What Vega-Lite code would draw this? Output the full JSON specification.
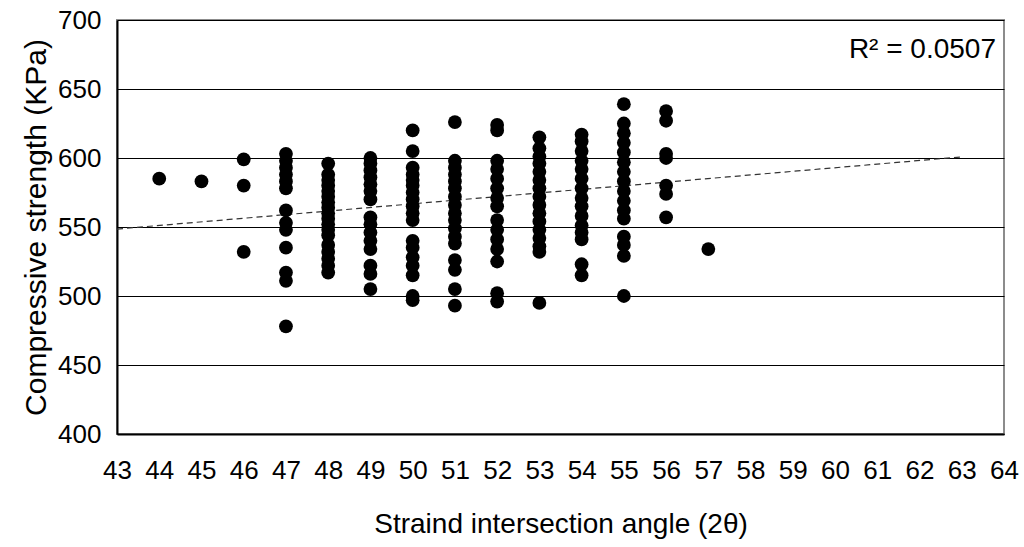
{
  "$schema": "https://vega.github.io/schema/vega-lite/v6.json",
  "autosize": {"type": "none"},
  "width": 887,
  "height": 414,
  "padding": {"left": 117, "top": 20, "right": 20, "bottom": 113},
  "background": "white",
  "config": {
    "font": "Liberation Sans",
    "view": {"stroke": "#8c8c8c", "strokeWidth": 2},
    "axis": {"labelFont": "Liberation Sans", "titleFont": "Liberation Sans", "labelColor": "#000", "titleColor": "#000", "titleFontWeight": "normal"}
  },
  "datasets": {
    "pts": [
      {"angle": 44, "strength": 585},
      {"angle": 45, "strength": 583},
      {"angle": 46, "strength": 599}, {"angle": 46, "strength": 580}, {"angle": 46, "strength": 532},
      {"angle": 47, "strength": 603}, {"angle": 47, "strength": 598}, {"angle": 47, "strength": 593}, {"angle": 47, "strength": 588}, {"angle": 47, "strength": 583}, {"angle": 47, "strength": 578}, {"angle": 47, "strength": 562}, {"angle": 47, "strength": 553}, {"angle": 47, "strength": 548}, {"angle": 47, "strength": 535}, {"angle": 47, "strength": 517}, {"angle": 47, "strength": 511}, {"angle": 47, "strength": 478},
      {"angle": 48, "strength": 596}, {"angle": 48, "strength": 588}, {"angle": 48, "strength": 584}, {"angle": 48, "strength": 580}, {"angle": 48, "strength": 576}, {"angle": 48, "strength": 572}, {"angle": 48, "strength": 568}, {"angle": 48, "strength": 564}, {"angle": 48, "strength": 560}, {"angle": 48, "strength": 556}, {"angle": 48, "strength": 552}, {"angle": 48, "strength": 548}, {"angle": 48, "strength": 544}, {"angle": 48, "strength": 537}, {"angle": 48, "strength": 532}, {"angle": 48, "strength": 527}, {"angle": 48, "strength": 522}, {"angle": 48, "strength": 517},
      {"angle": 49, "strength": 600}, {"angle": 49, "strength": 596}, {"angle": 49, "strength": 591}, {"angle": 49, "strength": 586}, {"angle": 49, "strength": 581}, {"angle": 49, "strength": 576}, {"angle": 49, "strength": 570}, {"angle": 49, "strength": 557}, {"angle": 49, "strength": 552}, {"angle": 49, "strength": 546}, {"angle": 49, "strength": 540}, {"angle": 49, "strength": 534}, {"angle": 49, "strength": 522}, {"angle": 49, "strength": 516}, {"angle": 49, "strength": 505},
      {"angle": 50, "strength": 620}, {"angle": 50, "strength": 605}, {"angle": 50, "strength": 593}, {"angle": 50, "strength": 588}, {"angle": 50, "strength": 584}, {"angle": 50, "strength": 580}, {"angle": 50, "strength": 575}, {"angle": 50, "strength": 570}, {"angle": 50, "strength": 565}, {"angle": 50, "strength": 560}, {"angle": 50, "strength": 555}, {"angle": 50, "strength": 540}, {"angle": 50, "strength": 535}, {"angle": 50, "strength": 528}, {"angle": 50, "strength": 522}, {"angle": 50, "strength": 515}, {"angle": 50, "strength": 500}, {"angle": 50, "strength": 497},
      {"angle": 51, "strength": 626}, {"angle": 51, "strength": 598}, {"angle": 51, "strength": 593}, {"angle": 51, "strength": 588}, {"angle": 51, "strength": 583}, {"angle": 51, "strength": 578}, {"angle": 51, "strength": 572}, {"angle": 51, "strength": 566}, {"angle": 51, "strength": 560}, {"angle": 51, "strength": 555}, {"angle": 51, "strength": 549}, {"angle": 51, "strength": 543}, {"angle": 51, "strength": 538}, {"angle": 51, "strength": 526}, {"angle": 51, "strength": 519}, {"angle": 51, "strength": 505}, {"angle": 51, "strength": 493},
      {"angle": 52, "strength": 624}, {"angle": 52, "strength": 620}, {"angle": 52, "strength": 598}, {"angle": 52, "strength": 592}, {"angle": 52, "strength": 585}, {"angle": 52, "strength": 578}, {"angle": 52, "strength": 571}, {"angle": 52, "strength": 565}, {"angle": 52, "strength": 555}, {"angle": 52, "strength": 548}, {"angle": 52, "strength": 541}, {"angle": 52, "strength": 534}, {"angle": 52, "strength": 525}, {"angle": 52, "strength": 502}, {"angle": 52, "strength": 496},
      {"angle": 53, "strength": 615}, {"angle": 53, "strength": 607}, {"angle": 53, "strength": 601}, {"angle": 53, "strength": 596}, {"angle": 53, "strength": 590}, {"angle": 53, "strength": 584}, {"angle": 53, "strength": 578}, {"angle": 53, "strength": 572}, {"angle": 53, "strength": 566}, {"angle": 53, "strength": 560}, {"angle": 53, "strength": 554}, {"angle": 53, "strength": 548}, {"angle": 53, "strength": 542}, {"angle": 53, "strength": 536}, {"angle": 53, "strength": 532}, {"angle": 53, "strength": 495},
      {"angle": 54, "strength": 617}, {"angle": 54, "strength": 612}, {"angle": 54, "strength": 605}, {"angle": 54, "strength": 598}, {"angle": 54, "strength": 592}, {"angle": 54, "strength": 585}, {"angle": 54, "strength": 578}, {"angle": 54, "strength": 571}, {"angle": 54, "strength": 565}, {"angle": 54, "strength": 558}, {"angle": 54, "strength": 551}, {"angle": 54, "strength": 546}, {"angle": 54, "strength": 541}, {"angle": 54, "strength": 523}, {"angle": 54, "strength": 515},
      {"angle": 55, "strength": 639}, {"angle": 55, "strength": 625}, {"angle": 55, "strength": 618}, {"angle": 55, "strength": 611}, {"angle": 55, "strength": 604}, {"angle": 55, "strength": 597}, {"angle": 55, "strength": 590}, {"angle": 55, "strength": 583}, {"angle": 55, "strength": 576}, {"angle": 55, "strength": 569}, {"angle": 55, "strength": 562}, {"angle": 55, "strength": 556}, {"angle": 55, "strength": 543}, {"angle": 55, "strength": 537}, {"angle": 55, "strength": 529}, {"angle": 55, "strength": 500},
      {"angle": 56, "strength": 634}, {"angle": 56, "strength": 627}, {"angle": 56, "strength": 603}, {"angle": 56, "strength": 600}, {"angle": 56, "strength": 580}, {"angle": 56, "strength": 574}, {"angle": 56, "strength": 557},
      {"angle": 57, "strength": 534}
    ],
    "trend": [
      {"angle": 43, "strength": 548.5},
      {"angle": 63, "strength": 600.8}
    ]
  },
  "layer": [
    {
      "data": {"name": "trend"},
      "mark": {"type": "line", "color": "#333", "strokeWidth": 1.2, "strokeDash": [6, 4]},
      "encoding": {
        "x": {
          "field": "angle", "type": "quantitative",
          "scale": {"domain": [43, 64], "nice": false, "zero": false},
          "axis": {
            "title": "Straind intersection angle (2θ)",
            "values": [43,44,45,46,47,48,49,50,51,52,53,54,55,56,57,58,59,60,61,62,63,64],
            "grid": false, "ticks": false, "domainColor": "#000", "domainWidth": 2,
            "labelFontSize": 26, "labelPadding": 23, "titleFontSize": 28, "titlePadding": 27,
            "labelFlush": false
          }
        },
        "y": {
          "field": "strength", "type": "quantitative",
          "scale": {"domain": [400, 700], "nice": false, "zero": false},
          "axis": {
            "title": "Compressive strength (KPa)",
            "values": [400, 450, 500, 550, 600, 650, 700],
            "grid": true, "gridColor": "#000", "gridWidth": 1.2,
            "ticks": false, "domainColor": "#000", "domainWidth": 2,
            "labelFontSize": 26, "labelPadding": 16, "titleFontSize": 30, "titlePadding": 6,
            "labelFlush": false
          }
        }
      }
    },
    {
      "data": {"name": "pts"},
      "mark": {"type": "circle", "color": "#000", "opacity": 1, "size": 190},
      "encoding": {
        "x": {"field": "angle", "type": "quantitative"},
        "y": {"field": "strength", "type": "quantitative"}
      }
    },
    {
      "data": {"values": [{"label": "R² = 0.0507"}]},
      "mark": {"type": "text", "align": "right", "baseline": "middle", "fontSize": 28, "font": "Liberation Sans", "color": "#000", "dx": -8},
      "encoding": {
        "x": {"datum": 64},
        "y": {"datum": 678},
        "text": {"field": "label"}
      }
    }
  ]
}
